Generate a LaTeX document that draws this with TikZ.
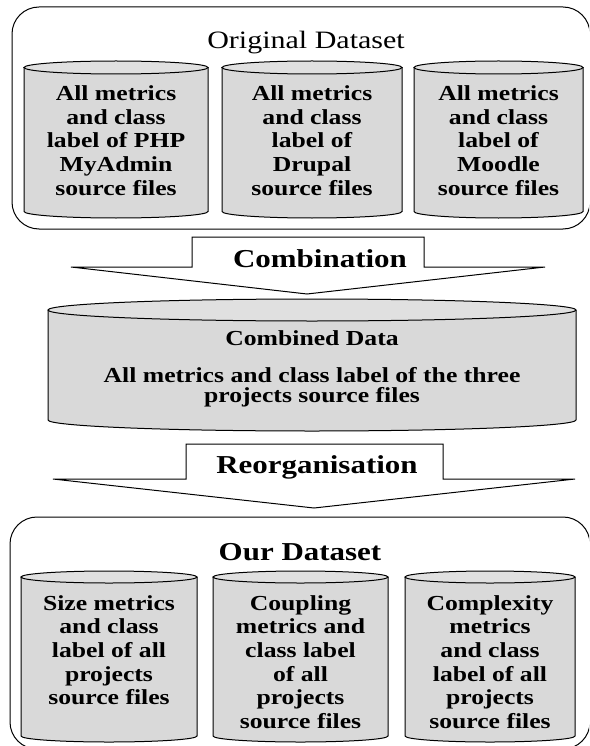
\documentclass[tikz,border=0pt]{standalone}
\usepackage{fontspec}
\setmainfont{Liberation Serif}[FakeStretch=1.2]
\usetikzlibrary{positioning}

\tikzset{
  group/.style={draw, line width=1pt, rounded corners=27pt},
  dbbody/.style={inner sep=0pt, outer sep=0pt},
  dbline/.style={line width=1pt},
  dbtext/.style={anchor=north, align=center, inner sep=0pt,
    font=\bfseries\fontsize{21.4}{23.7}\selectfont},
  bigarrow/.style={draw, line width=1pt, fill=white, line join=miter},
  stage/.style={anchor=base, inner sep=0pt, font=\bfseries\fontsize{25.8}{28}\selectfont},
}

% name, centre, width, body height, ellipse radius
\newcommand{\database}[5]{%
  \node[dbbody, minimum width=#3pt, minimum height=#4pt] (#1) at (#2) {};
  \fill[black!15] (#1.north west) -- (#1.south west)
    arc[start angle=180, end angle=360, x radius=#3pt/2, y radius=#5pt] -- (#1.north east) -- cycle;
  \draw[dbline] (#1.north west) -- (#1.south west)
    arc[start angle=180, end angle=360, x radius=#3pt/2, y radius=#5pt] -- (#1.north east);
  \draw[dbline, fill=black!12] (#1.north) ellipse[x radius=#3pt/2, y radius=#5pt];
}

\begin{document}
\begin{tikzpicture}[x=1pt, y=-1pt]
    \clip (0,0) rectangle (589,746);

    % original dataset
    \draw[group] (12,7) rectangle (590,229);
    \node[anchor=base, inner sep=0pt, font=\fontsize{25}{28}\selectfont] (orig) at (306,49) {Original Dataset};

    \database{php}{116,139.5}{184}{144}{6.5}
    \database{drupal}{312,139.5}{180}{144}{6.5}
    \database{moodle}{498.5,139.5}{169}{144}{6.5}
    \node[dbtext, below=18pt of php.north] (phptext) {All metrics\\and class\\label of PHP\\MyAdmin\\source files};
    \node[dbtext, below=18pt of drupal.north] (drupaltext) {All metrics\\and class\\label of\\Drupal\\source files};
    \node[dbtext, below=18pt of moodle.north] (moodletext) {All metrics\\and class\\label of\\Moodle\\source files};

    % combination
    \draw[bigarrow] (192,267) |- (424,237) |- (545,267) -- (307,294) -- (71,267) -- cycle;
    \node[stage] (comb) at (320,267) {Combination};

    \database{combined}{312,365}{528}{110}{11}
    \node[anchor=base, inner sep=0pt, font=\bfseries\fontsize{21.4}{23.7}\selectfont] (combtitle) at (312,345) {Combined Data};
    \node[dbtext, font=\bfseries\fontsize{21.4}{20}\selectfont] (combtext) at (312,367.5) {All metrics and class label of the three\\projects source files};

    % reorganisation
    \draw[bigarrow] (186,479) |- (443,444) |- (575,479) -- (314,508) -- (53,479) -- cycle;
    \node[stage] (reorg) at (317,473) {Reorganisation};

    % our dataset
    \draw[group] (10,517) rectangle (590,749);
    \node[stage] (ours) at (300,560) {Our Dataset};

    \database{size}{109,656.5}{176}{159}{6}
    \database{coupling}{300.5,656.5}{175}{159}{6}
    \database{complexity}{490,656.5}{170}{159}{6}
    \node[dbtext, below=18pt of size.north] (sizetext) {Size metrics\\and class\\label of all\\projects\\source files};
    \node[dbtext, below=18pt of coupling.north] (couplingtext) {Coupling\\metrics and\\class label\\of all\\projects\\source files};
    \node[dbtext, below=18pt of complexity.north] (complexitytext) {Complexity\\metrics\\and class\\label of all\\projects\\source files};
\end{tikzpicture}
\end{document}
